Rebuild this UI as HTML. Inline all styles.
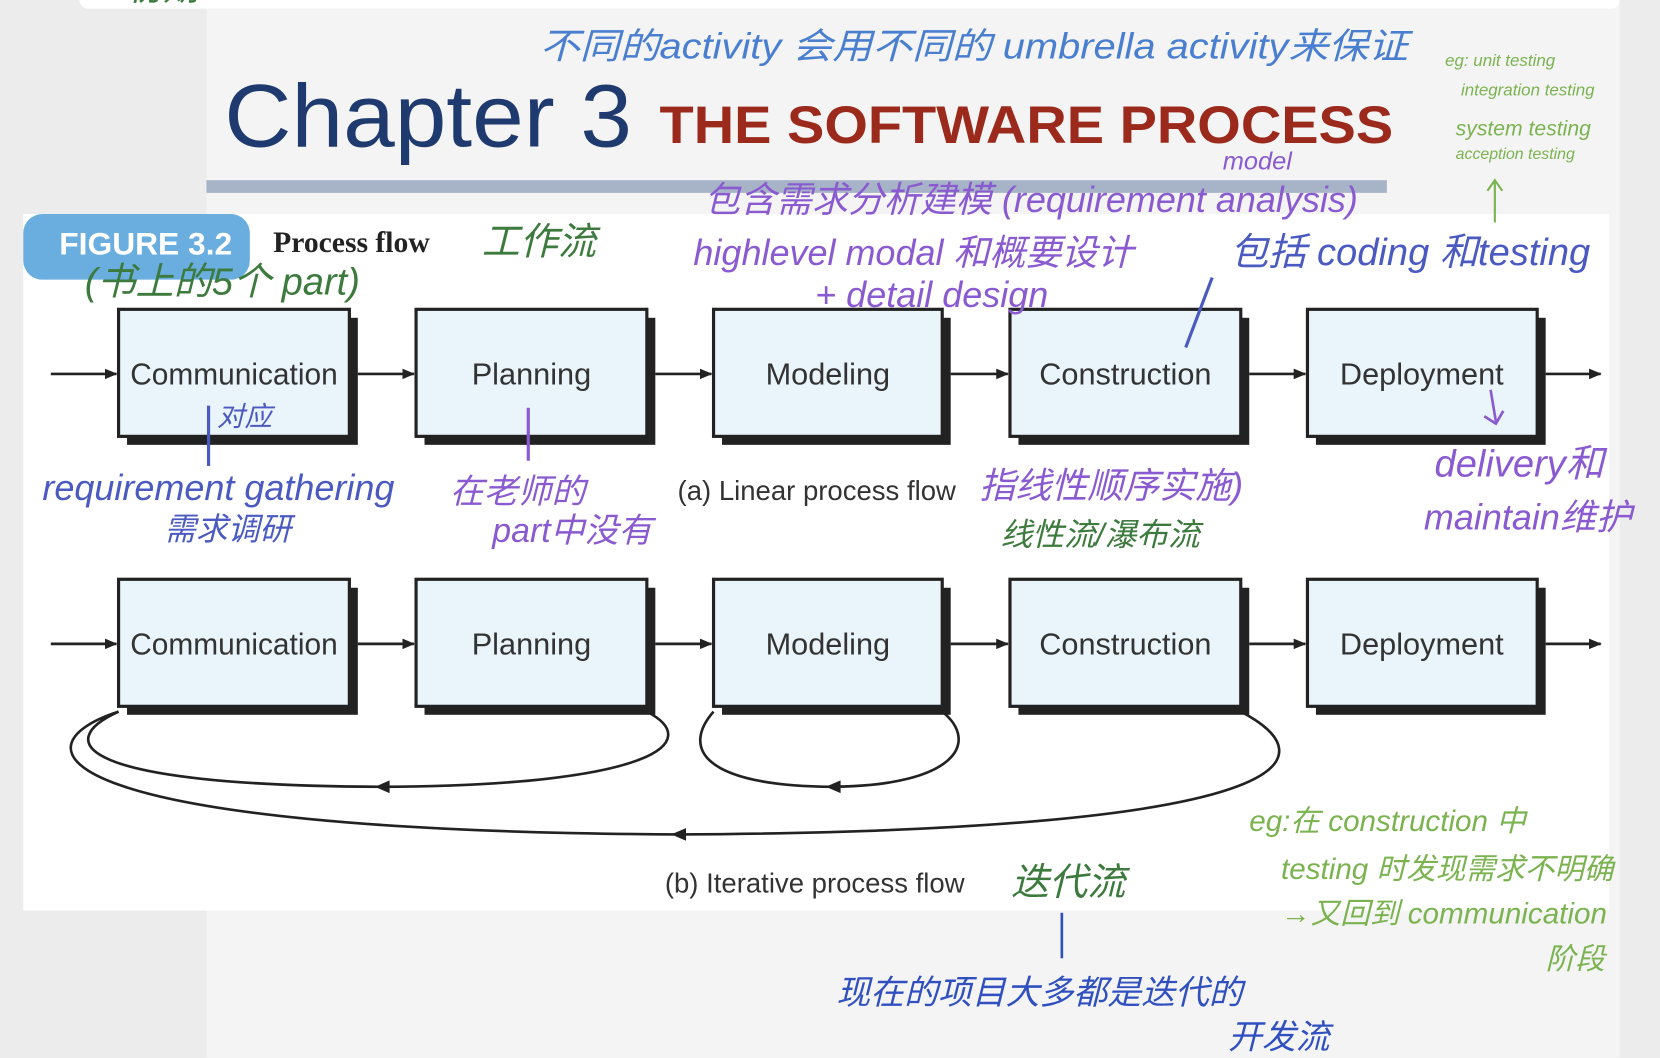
<!DOCTYPE html>
<html><head><meta charset="utf-8"><style>
html,body{margin:0;padding:0;width:1660px;height:1058px;overflow:hidden;background:#ececec}
svg{display:block}
.h{font-family:"Liberation Sans","Noto Sans CJK SC",sans-serif;font-style:italic}
.bx{font-family:"Liberation Sans",sans-serif;font-size:29px;fill:#333}
</style></head><body>
<svg width="1660" height="1058" viewBox="0 0 1568 999" xmlns="http://www.w3.org/2000/svg">
<defs>
<marker id="a" markerWidth="12" markerHeight="12" refX="11" refY="6" orient="auto" markerUnits="userSpaceOnUse"><path d="M0,1 L12,6 L0,11 z" fill="#222"/></marker>
</defs>
<rect width="1568" height="999" fill="#ececec"/>
<rect x="195" y="0" width="1335" height="999" fill="#f4f4f4"/>
<rect x="75" y="-10" width="1455" height="18" rx="8" fill="#fff"/>
<rect x="195" y="170" width="1115" height="12" fill="#a7b3c7"/>
<rect x="22" y="202" width="1498" height="658" fill="#fff"/>
<rect x="22" y="202" width="214" height="62" rx="18" fill="#6aaee0"/>
<text x="56" y="240" font-family="Liberation Sans,sans-serif" font-weight="bold" font-size="30" fill="#fff">FIGURE 3.2</text>
<text x="258" y="238" font-family="Liberation Serif,serif" font-weight="bold" font-size="28" fill="#222">Process flow</text>
<text x="212" y="138" font-family="Liberation Sans,sans-serif" font-size="84" fill="#1f3a6e" textLength="385" lengthAdjust="spacingAndGlyphs">Chapter 3</text>
<text x="623" y="135" font-family="Liberation Sans,sans-serif" font-weight="bold" font-size="50" fill="#9b2a1c" textLength="693" lengthAdjust="spacingAndGlyphs">THE SOFTWARE PROCESS</text>

<g id="row">
<g fill="#222">
<rect x="120" y="300" width="218" height="120"/><rect x="401" y="300" width="218" height="120"/><rect x="682" y="300" width="216" height="120"/><rect x="962" y="300" width="218" height="120"/><rect x="1243" y="300" width="217" height="120"/>
</g>
<g fill="#e9f4fb" stroke="#222" stroke-width="3">
<rect x="112" y="292" width="218" height="120"/><rect x="393" y="292" width="218" height="120"/><rect x="674" y="292" width="216" height="120"/><rect x="954" y="292" width="218" height="120"/><rect x="1235" y="292" width="217" height="120"/>
</g>
<g stroke="#222" stroke-width="2.5" marker-end="url(#a)">
<line x1="48" y1="353" x2="110" y2="353"/><line x1="338" y1="353" x2="391" y2="353"/><line x1="619" y1="353" x2="672" y2="353"/><line x1="898" y1="353" x2="952" y2="353"/><line x1="1180" y1="353" x2="1233" y2="353"/><line x1="1460" y1="353" x2="1512" y2="353"/>
</g>
<g class="bx" text-anchor="middle">
<text x="221" y="363" textLength="196" lengthAdjust="spacingAndGlyphs">Communication</text><text x="502" y="363">Planning</text><text x="782" y="363">Modeling</text><text x="1063" y="363">Construction</text><text x="1343" y="363">Deployment</text>
</g>
</g>
<use href="#row" y="255"/>

<g fill="none" stroke="#222" stroke-width="2.5">
<path d="M112,672 C50,700 70,742 360,743 C620,742 665,700 611,672"/>
<path d="M674,672 C645,705 660,742 786,743 C905,742 925,700 890,672"/>
<path d="M112,672 C10,705 40,785 640,788 C1240,785 1255,715 1172,672"/>
</g>
<g fill="#222"><path d="M354,743 l14,-6 v12z"/><path d="M780,743 l14,-6 v12z"/><path d="M634,788 l14,-6 v12z"/></g>

<text x="640" y="472" font-family="Liberation Sans,sans-serif" font-size="26" fill="#333">(a) Linear process flow</text>
<text x="628" y="843" font-family="Liberation Sans,sans-serif" font-size="26" fill="#333">(b) Iterative process flow</text>

<g class="h">
<text x="510" y="55" font-size="34" fill="#4a7fd0" textLength="820" lengthAdjust="spacingAndGlyphs">不同的activity 会用不同的 umbrella activity来保证</text>
<text x="1365" y="62" font-size="16" fill="#7bb350">eg: unit testing</text>
<text x="1380" y="90" font-size="16" fill="#7bb350">integration testing</text>
<text x="1375" y="128" font-size="20" fill="#7bb350">system testing</text>
<text x="1375" y="150" font-size="15" fill="#7bb350">acception testing</text>
<path d="M1412,210 V172 M1405,180 l7,-10 7,10" stroke="#7bb350" stroke-width="2" fill="none"/>
<text x="1155" y="160" font-size="24" fill="#8a5ad0">model</text>
<text x="665" y="200" font-size="34" fill="#8a5ad0">包含需求分析建模 (requirement analysis)</text>
<text x="655" y="250" font-size="34" fill="#8a5ad0">highlevel modal 和概要设计</text>
<text x="770" y="290" font-size="34" fill="#8a5ad0">+ detail design</text>
<text x="1162" y="250" font-size="36" fill="#4a5ac0">包括 coding 和testing</text>
<path d="M1120,328 L1145,262" stroke="#4a5ac0" stroke-width="3"/>
<text x="455" y="240" font-size="36" fill="#3d7a3d">工作流</text>
<text x="80" y="278" font-size="36" fill="#3d7a3d">(书上的5个 part)</text>
<path d="M197,383 V440" stroke="#4a5ac0" stroke-width="3"/>
<text x="205" y="402" font-size="26" fill="#4a5ac0">对应</text>
<text x="40" y="472" font-size="34" fill="#4a5ac0">requirement gathering</text>
<text x="155" y="510" font-size="30" fill="#4a5ac0">需求调研</text>
<path d="M499,385 V435" stroke="#8a5ad0" stroke-width="3"/>
<text x="425" y="475" font-size="32" fill="#8a5ad0">在老师的</text>
<text x="465" y="512" font-size="32" fill="#8a5ad0">part中没有</text>
<text x="925" y="470" font-size="34" fill="#8a5ad0">指线性顺序实施)</text>
<text x="945" y="515" font-size="30" fill="#3d7a3d">线性流/瀑布流</text>
<path d="M1408,368 l5,30 M1402,393 l11,7 7,-12" stroke="#8a5ad0" stroke-width="2.5" fill="none"/>
<text x="1355" y="450" font-size="36" fill="#8a5ad0">delivery和</text>
<text x="1345" y="500" font-size="34" fill="#8a5ad0">maintain维护</text>
<text x="955" y="845" font-size="36" fill="#3d7a3d">迭代流</text>
<path d="M1003,862 V905" stroke="#3050c0" stroke-width="2.5"/>
<text x="790" y="948" font-size="32" fill="#3050c0">现在的项目大多都是迭代的</text>
<text x="1160" y="990" font-size="32" fill="#3050c0">开发流</text>
<text x="1180" y="785" font-size="28" fill="#7bb350">eg:在 construction 中</text>
<text x="1210" y="830" font-size="28" fill="#7bb350">testing 时发现需求不明确</text>
<text x="1210" y="872" font-size="28" fill="#7bb350">→又回到 communication</text>
<text x="1460" y="915" font-size="28" fill="#7bb350">阶段</text>
<text x="120" y="0" font-size="34" fill="#3d7a3d">初期</text>
</g>
</svg>
</body></html>
